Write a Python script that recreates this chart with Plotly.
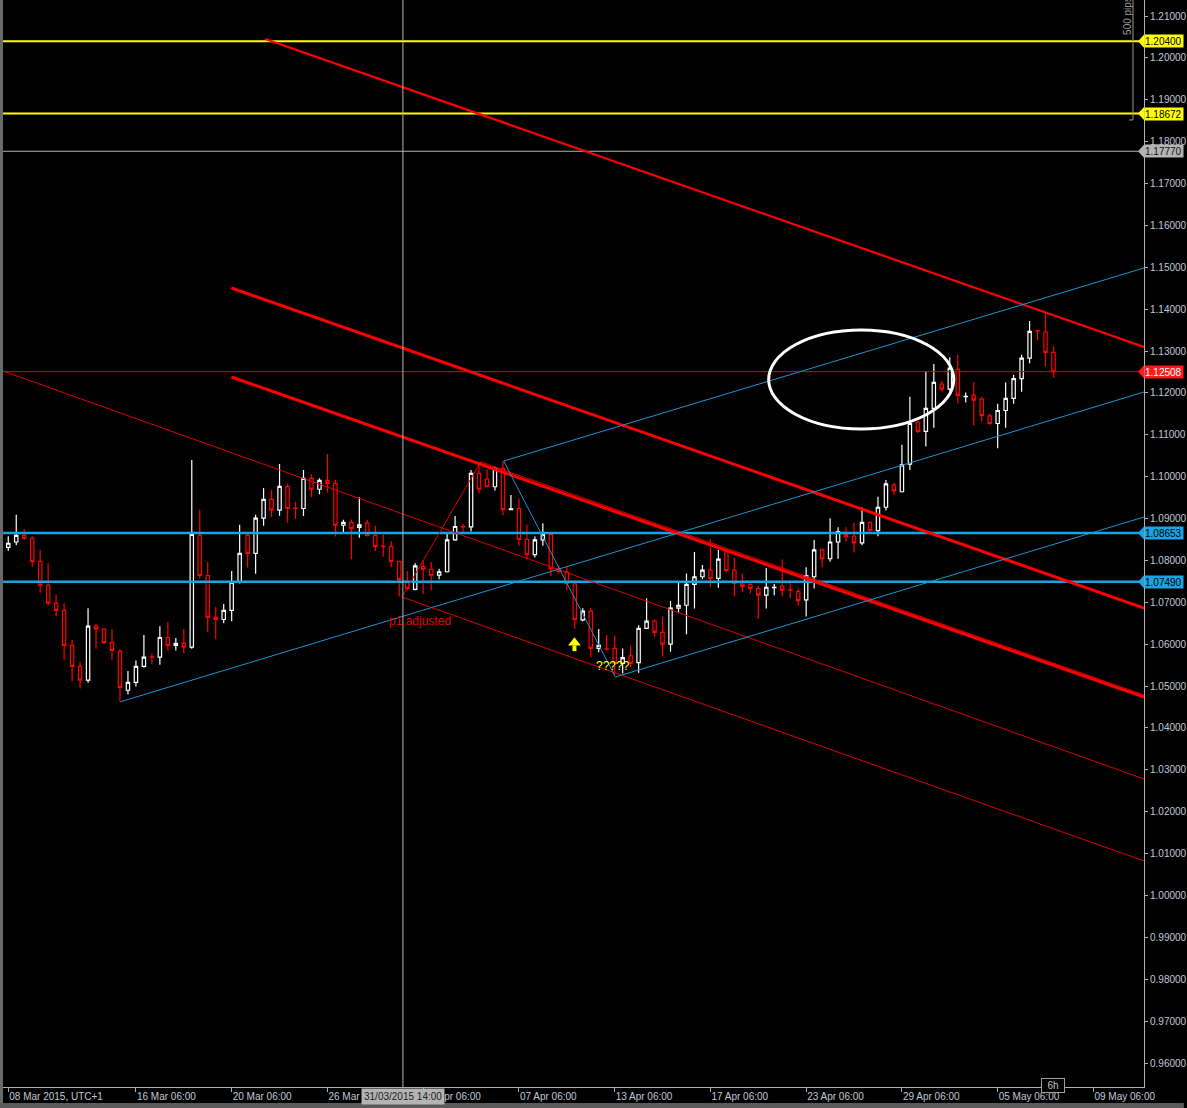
import plotly.graph_objects as go

# ---------------- data (EURUSD bars) ----------------
opens = [
    1.0831, 1.0844, 1.0860, 1.0853, 1.0798, 1.0741, 1.0698, 1.0681, 1.0597, 1.0547,
    1.0514, 1.0643, 1.0636, 1.0604, 1.0583, 1.0490, 1.0509, 1.0547, 1.0570, 1.0569,
    1.0616, 1.0597, 1.0602, 1.0593, 1.0860, 1.0764, 1.0664, 1.0659, 1.0681, 1.0748,
    1.0860, 1.0817, 1.0901, 1.0946, 1.0920, 1.0977, 1.0925, 1.0924, 1.0996, 1.0970,
    1.0991, 1.0984, 1.0884, 1.0891, 1.0879, 1.0889, 1.0860, 1.0834, 1.0833, 1.0798,
    1.0749, 1.0731, 1.0786, 1.0779, 1.0765, 1.0773, 1.0849, 1.0881, 1.0880, 1.1008,
    1.0994, 1.0976, 1.1020, 1.0921, 1.0924, 1.0850, 1.0814, 1.0849, 1.0862, 1.0780,
    1.0773, 1.0744, 1.0658, 1.0679, 1.0590, 1.0589, 1.0590, 1.0554, 1.0572, 1.0556,
    1.0638, 1.0655, 1.0628, 1.0600, 1.0686, 1.0693, 1.0743, 1.0761, 1.0777, 1.0757,
    1.0821, 1.0777, 1.0744, 1.0743, 1.0733, 1.0717, 1.0735, 1.0739, 1.0730, 1.0726,
    1.0706, 1.0761, 1.0825, 1.0804, 1.0844, 1.0863, 1.0858, 1.0842, 1.0891, 1.0871,
    1.0927, 1.0980, 1.0964, 1.1030, 1.1130, 1.1108, 1.1163, 1.1221, 1.1209, 1.1256,
    1.1191, 1.1194, 1.1185, 1.1145, 1.1127, 1.1158, 1.1187, 1.1234, 1.1283, 1.1349,
    1.1345, 1.1297]
highs = [
    1.0858, 1.0909, 1.0875, 1.0858, 1.0825, 1.0793, 1.0718, 1.0698, 1.0610, 1.0558,
    1.0686, 1.0648, 1.0637, 1.0636, 1.0588, 1.0536, 1.0561, 1.0622, 1.0578, 1.0643,
    1.0653, 1.0615, 1.0636, 1.1040, 1.0921, 1.0796, 1.0689, 1.0696, 1.0775, 1.0885,
    1.0865, 1.0909, 1.0973, 1.0968, 1.1030, 1.0983, 1.0940, 1.1016, 1.1006, 1.0996,
    1.1054, 1.0992, 1.0897, 1.0898, 1.0951, 1.0897, 1.0882, 1.0862, 1.0846, 1.0799,
    1.0775, 1.0793, 1.0801, 1.0796, 1.0780, 1.0863, 1.0906, 1.0887, 1.1016, 1.1035,
    1.1018, 1.1024, 1.1037, 1.0956, 1.0948, 1.0886, 1.0857, 1.0889, 1.0863, 1.0788,
    1.0785, 1.0753, 1.0686, 1.0686, 1.0636, 1.0622, 1.0620, 1.0590, 1.0597, 1.0645,
    1.0710, 1.0659, 1.0666, 1.0703, 1.0749, 1.0769, 1.0820, 1.0789, 1.0851, 1.0825,
    1.0825, 1.0807, 1.0769, 1.0749, 1.0739, 1.0782, 1.0744, 1.0803, 1.0749, 1.0733,
    1.0784, 1.0849, 1.0829, 1.0901, 1.0879, 1.0879, 1.0890, 1.0927, 1.0893, 1.0952,
    1.0992, 1.0986, 1.1076, 1.1191, 1.1134, 1.1251, 1.1269, 1.1229, 1.1285, 1.1291,
    1.1201, 1.1226, 1.1191, 1.1150, 1.1174, 1.1225, 1.1243, 1.1291, 1.1372, 1.1350,
    1.1390, 1.1312]
lows = [
    1.0823, 1.0836, 1.0849, 1.0785, 1.0723, 1.0692, 1.0666, 1.0561, 1.0511, 1.0494,
    1.0508, 1.0589, 1.0600, 1.0563, 1.0463, 1.0480, 1.0499, 1.0544, 1.0552, 1.0551,
    1.0585, 1.0585, 1.0579, 1.0589, 1.0756, 1.0630, 1.0612, 1.0650, 1.0655, 1.0745,
    1.0783, 1.0768, 1.0883, 1.0904, 1.0907, 1.0890, 1.0899, 1.0906, 1.0951, 1.0958,
    1.0962, 1.0857, 1.0865, 1.0803, 1.0854, 1.0857, 1.0822, 1.0809, 1.0784, 1.0714,
    1.0729, 1.0729, 1.0719, 1.0728, 1.0755, 1.0771, 1.0847, 1.0867, 1.0869, 1.0960,
    1.0974, 1.0967, 1.0908, 1.0920, 1.0835, 1.0803, 1.0807, 1.0835, 1.0763, 1.0769,
    1.0729, 1.0637, 1.0654, 1.0569, 1.0581, 1.0585, 1.0528, 1.0530, 1.0545, 1.0532,
    1.0636, 1.0618, 1.0570, 1.0582, 1.0674, 1.0624, 1.0685, 1.0755, 1.0737, 1.0735,
    1.0771, 1.0714, 1.0725, 1.0721, 1.0661, 1.0685, 1.0717, 1.0714, 1.0710, 1.0692,
    1.0666, 1.0733, 1.0784, 1.0797, 1.0804, 1.0845, 1.0819, 1.0836, 1.0869, 1.0858,
    1.0919, 1.0956, 1.0962, 1.1016, 1.1104, 1.1072, 1.1117, 1.1203, 1.1205, 1.1175,
    1.1177, 1.1122, 1.1131, 1.1124, 1.1068, 1.1117, 1.1174, 1.1203, 1.1271, 1.1325,
    1.1263, 1.1236]
closes = [
    1.0841, 1.0860, 1.0853, 1.0798, 1.0741, 1.0698, 1.0681, 1.0597, 1.0547, 1.0514,
    1.0643, 1.0636, 1.0604, 1.0585, 1.0497, 1.0509, 1.0547, 1.0569, 1.0569, 1.0616,
    1.0597, 1.0602, 1.0593, 1.0862, 1.0764, 1.0664, 1.0659, 1.0681, 1.0748, 1.0817,
    1.0817, 1.0901, 1.0946, 1.0920, 1.0977, 1.0924, 1.0924, 1.0996, 1.0970, 1.0991,
    1.0984, 1.0884, 1.0891, 1.0876, 1.0885, 1.0860, 1.0833, 1.0833, 1.0798, 1.0755,
    1.0733, 1.0787, 1.0779, 1.0764, 1.0773, 1.0849, 1.0881, 1.0880, 1.1008, 1.0970,
    1.0976, 1.1020, 1.0922, 1.0923, 1.0850, 1.0814, 1.0849, 1.0862, 1.0780, 1.0773,
    1.0745, 1.0659, 1.0679, 1.0590, 1.0597, 1.0588, 1.0554, 1.0568, 1.0554, 1.0638,
    1.0655, 1.0628, 1.0600, 1.0686, 1.0693, 1.0743, 1.0761, 1.0777, 1.0757, 1.0803,
    1.0776, 1.0745, 1.0738, 1.0733, 1.0717, 1.0736, 1.0736, 1.0729, 1.0729, 1.0704,
    1.0764, 1.0825, 1.0804, 1.0844, 1.0869, 1.0857, 1.0842, 1.0891, 1.0872, 1.0927,
    1.0983, 1.0966, 1.1028, 1.1127, 1.1108, 1.1163, 1.1225, 1.1209, 1.1259, 1.1194,
    1.1192, 1.1183, 1.1146, 1.1127, 1.1158, 1.1187, 1.1234, 1.1283, 1.1347, 1.1348,
    1.1297, 1.12508]
bar_index = list(range(len(opens)))

tick_bars = [0, 16, 28, 40, 52, 64, 76, 88, 100, 112, 124, 136]
tick_labels = ["08 Mar 2015, UTC+1", "16 Mar 06:00", "20 Mar 06:00", "26 Mar 06:00",
               "01 Apr 06:00", "07 Apr 06:00", "13 Apr 06:00", "17 Apr 06:00",
               "23 Apr 06:00", "29 Apr 06:00", "05 May 06:00", "09 May 06:00"]
price_ticks = [0.96, 0.97, 0.98, 0.99, 1.00, 1.01, 1.02, 1.03, 1.04, 1.05, 1.06, 1.07,
               1.08, 1.09, 1.10, 1.11, 1.12, 1.13, 1.14, 1.15, 1.16, 1.17, 1.18, 1.19,
               1.20, 1.21]

yellow_levels = [1.20400, 1.18672]
gray_levels = [1.17770]
current_price = [1.12508]
blue_levels = [1.08653, 1.07490]

# drawn trend lines: (bar positions, prices)
red_top_bars, red_top_prices = [32.21, 142.34], [1.20451, 1.13096]
red_mid_bars, red_mid_prices = [27.96, 142.34], [1.14505, 1.06864]
red_low_bars, red_low_prices = [27.96, 142.34], [1.12380, 1.04739]
red_fine1_bars, red_fine1_prices = [-0.66, 142.34], [1.12523, 1.02781]
red_fine2_bars, red_fine2_prices = [49.34, 142.34], [1.07127, 1.00824]
red_fine3_bars, red_fine3_prices = [59.21, 142.34], [1.10351, 1.04787]
red_handle_bars, red_handle_prices = [49.34, 59.21], [1.07127, 1.10351]
blue_a_bars, blue_a_prices = [13.96, 142.34], [1.04620, 1.12022]
blue_b_bars, blue_b_prices = [62.09, 142.34], [1.10374, 1.14983]
blue_c_bars, blue_c_prices = [76.09, 142.34], [1.05217, 1.09037]
blue_d_bars, blue_d_prices = [62.09, 76.09], [1.10374, 1.05217]
pips_bracket_bars, pips_bracket_prices = [140.46, 140.96, 140.96], [1.18517, 1.18517, 1.2140]

ellipse_bars = [95.3, 118.5]
ellipse_prices = [1.11139, 1.13502]
crosshair_bar = 49.46
arrow_head = (70.96, 1.06035)
arrow_stem_bars, arrow_stem_prices = [70.96, 70.96], [1.05970, 1.05835]
question_point = (75.84, 1.05479)
p1_label_point = (51.6, 1.06554)
pips_label_point = (140.2, 1.2100)

# ---------------- figure ----------------
X0, X1 = -0.66, 142.34
Y0, Y1 = 0.95427, 1.21382
PLOT_W, PLOT_H = 1144, 1087

fig = go.Figure()
fig.add_trace(go.Candlestick(
    x=bar_index, open=opens, high=highs, low=lows, close=closes,
    increasing=dict(line=dict(color="#ffffff", width=1.2), fillcolor="#000000"),
    decreasing=dict(line=dict(color="#ff0000", width=1.2), fillcolor="#000000"),
    whiskerwidth=0, hoverinfo="skip", showlegend=False))

def add_line(bx, py, color, width):
    fig.add_trace(go.Scatter(x=bx, y=py, mode="lines", line=dict(color=color, width=width),
                             hoverinfo="skip", showlegend=False))

# horizontal levels
for lv in yellow_levels:
    add_line([X0, X1], [lv, lv], "#ffff00", 2)
for lv in gray_levels:
    add_line([X0, X1], [lv, lv], "#b0b0b0", 1)
for lv in current_price:
    add_line([X0, X1], [lv, lv], "#e00000", 1)
for lv in blue_levels:
    add_line([X0, X1], [lv, lv], "#12a6e6", 2.5)

add_line(red_fine1_bars, red_fine1_prices, "#e00000", 1)
add_line(red_fine2_bars, red_fine2_prices, "#e00000", 1)
add_line(red_fine3_bars, red_fine3_prices, "#e00000", 1)
add_line(red_handle_bars, red_handle_prices, "#e00000", 1)
add_line(red_top_bars, red_top_prices, "#ff0000", 2.2)
add_line(red_mid_bars, red_mid_prices, "#ff0000", 3)
add_line(red_low_bars, red_low_prices, "#ff0000", 3)
add_line(blue_a_bars, blue_a_prices, "#1c94d2", 1)
add_line(blue_b_bars, blue_b_prices, "#1c94d2", 1)
add_line(blue_c_bars, blue_c_prices, "#1c94d2", 1)
add_line(blue_d_bars, blue_d_prices, "#1c94d2", 1)
add_line(pips_bracket_bars, pips_bracket_prices, "#9a9a9a", 1)
add_line(arrow_stem_bars, arrow_stem_prices, "#ffff00", 4)

fig.add_trace(go.Scatter(x=[arrow_head[0]], y=[arrow_head[1]], mode="markers",
                         marker=dict(symbol="triangle-up", size=11, color="#ffff00",
                                     line=dict(width=0)),
                         hoverinfo="skip", showlegend=False))

shapes = []
# crosshair
shapes.append(dict(type="line", xref="x", yref="paper", x0=crosshair_bar, x1=crosshair_bar,
                   y0=0, y1=1, line=dict(color="#b8b8b8", width=1)))
# ellipse
shapes.append(dict(type="circle", xref="x", yref="y", x0=ellipse_bars[0], x1=ellipse_bars[1],
                   y0=ellipse_prices[0], y1=ellipse_prices[1], line=dict(color="#ffffff", width=3)))
# grey frame strips
shapes.append(dict(type="rect", xref="paper", yref="paper", x0=-3 / PLOT_W, x1=0,
                   y0=-21 / PLOT_H, y1=1, fillcolor="#6a6a6a", line=dict(width=0)))
shapes.append(dict(type="rect", xref="paper", yref="paper", x0=-3 / PLOT_W, x1=1 + 40 / PLOT_W,
                   y0=-21 / PLOT_H, y1=-16 / PLOT_H, fillcolor="#5a5a5a", line=dict(width=0)))

annotations = []
badges = ([(v, "#ffff00", "#000000") for v in yellow_levels] +
          [(v, "#b4b4b4", "#101010") for v in gray_levels] +
          [(v, "#ff1a1a", "#ffffff") for v in current_price] +
          [(v, "#18a4e4", "#000000") for v in blue_levels])
half = 6.5 / PLOT_H * (Y1 - Y0)
for v, bg, fg in badges:
    shapes.append(dict(type="path", xref="paper", yref="y",
                       path="M %f,%f L 1,%f L 1,%f Z" % (1 - 6 / PLOT_W, v, v + half, v - half),
                       fillcolor=bg, line=dict(width=0)))
    annotations.append(dict(xref="paper", yref="y", x=1, y=v, xanchor="left", yanchor="middle",
                            text="%.5f" % v, showarrow=False, bgcolor=bg, width=38, height=12,
                            align="left", borderpad=0,
                            font=dict(family="Liberation Sans, Arial", size=10, color=fg)))

annotations.append(dict(xref="x", yref="y", x=p1_label_point[0], y=p1_label_point[1],
                        text="p1 adjusted", showarrow=False,
                        font=dict(family="Liberation Sans, Arial", size=12, color="#e00000")))
annotations.append(dict(xref="x", yref="y", x=question_point[0], y=question_point[1],
                        text="?????", showarrow=False,
                        font=dict(family="Liberation Sans, Arial", size=12, color="#ffff00")))
annotations.append(dict(xref="x", yref="y", x=pips_label_point[0], y=pips_label_point[1],
                        text="500 pips", showarrow=False, textangle=-90,
                        font=dict(family="Liberation Sans, Arial", size=10, color="#9a9a9a")))
annotations.append(dict(xref="x", yref="paper", x=crosshair_bar, y=-9 / PLOT_H,
                        text="31/03/2015 14:00", showarrow=False, bgcolor="#b4b4b4",
                        borderpad=2, yanchor="middle",
                        font=dict(family="Liberation Sans, Arial", size=10, color="#202020")))
annotations.append(dict(xref="x", yref="paper", x=130.96, y=2 / PLOT_H,
                        text="6h", showarrow=False, bgcolor="#000000", bordercolor="#a0a0a0",
                        borderwidth=1, borderpad=1, yanchor="middle", width=20,
                        font=dict(family="Liberation Sans, Arial", size=10, color="#c0c0c0")))

fig.update_layout(
    width=1187, height=1108,
    margin=dict(l=3, r=40, t=0, b=21, pad=0),
    paper_bgcolor="#000000", plot_bgcolor="#000000",
    showlegend=False, boxgap=0.4,
    font=dict(family="Liberation Sans, Arial, sans-serif", size=10, color="#c0c8d4"),
    shapes=shapes, annotations=annotations,
    xaxis=dict(range=[X0, X1], tickvals=tick_bars, ticktext=tick_labels,
               ticks="outside", ticklen=4, tickcolor="#b0b0b0",
               showline=True, linecolor="#b0b0b0", linewidth=1,
               showgrid=False, zeroline=False, rangeslider=dict(visible=False),
               ticklabelposition="outside right",
               tickfont=dict(size=10, color="#c0c8d4")),
    yaxis=dict(range=[Y0, Y1], side="right", tickvals=price_ticks, tickformat=".5f",
               ticks="outside", ticklen=3, tickcolor="#b0b0b0",
               showline=True, linecolor="#b0b0b0", linewidth=1,
               showgrid=False, zeroline=False,
               tickfont=dict(size=10, color="#c0c8d4")),
)

fig.write_html("out.html", config={"displayModeBar": False},
               post_script="document.body.style.margin='0';document.body.style.background='#000';")
